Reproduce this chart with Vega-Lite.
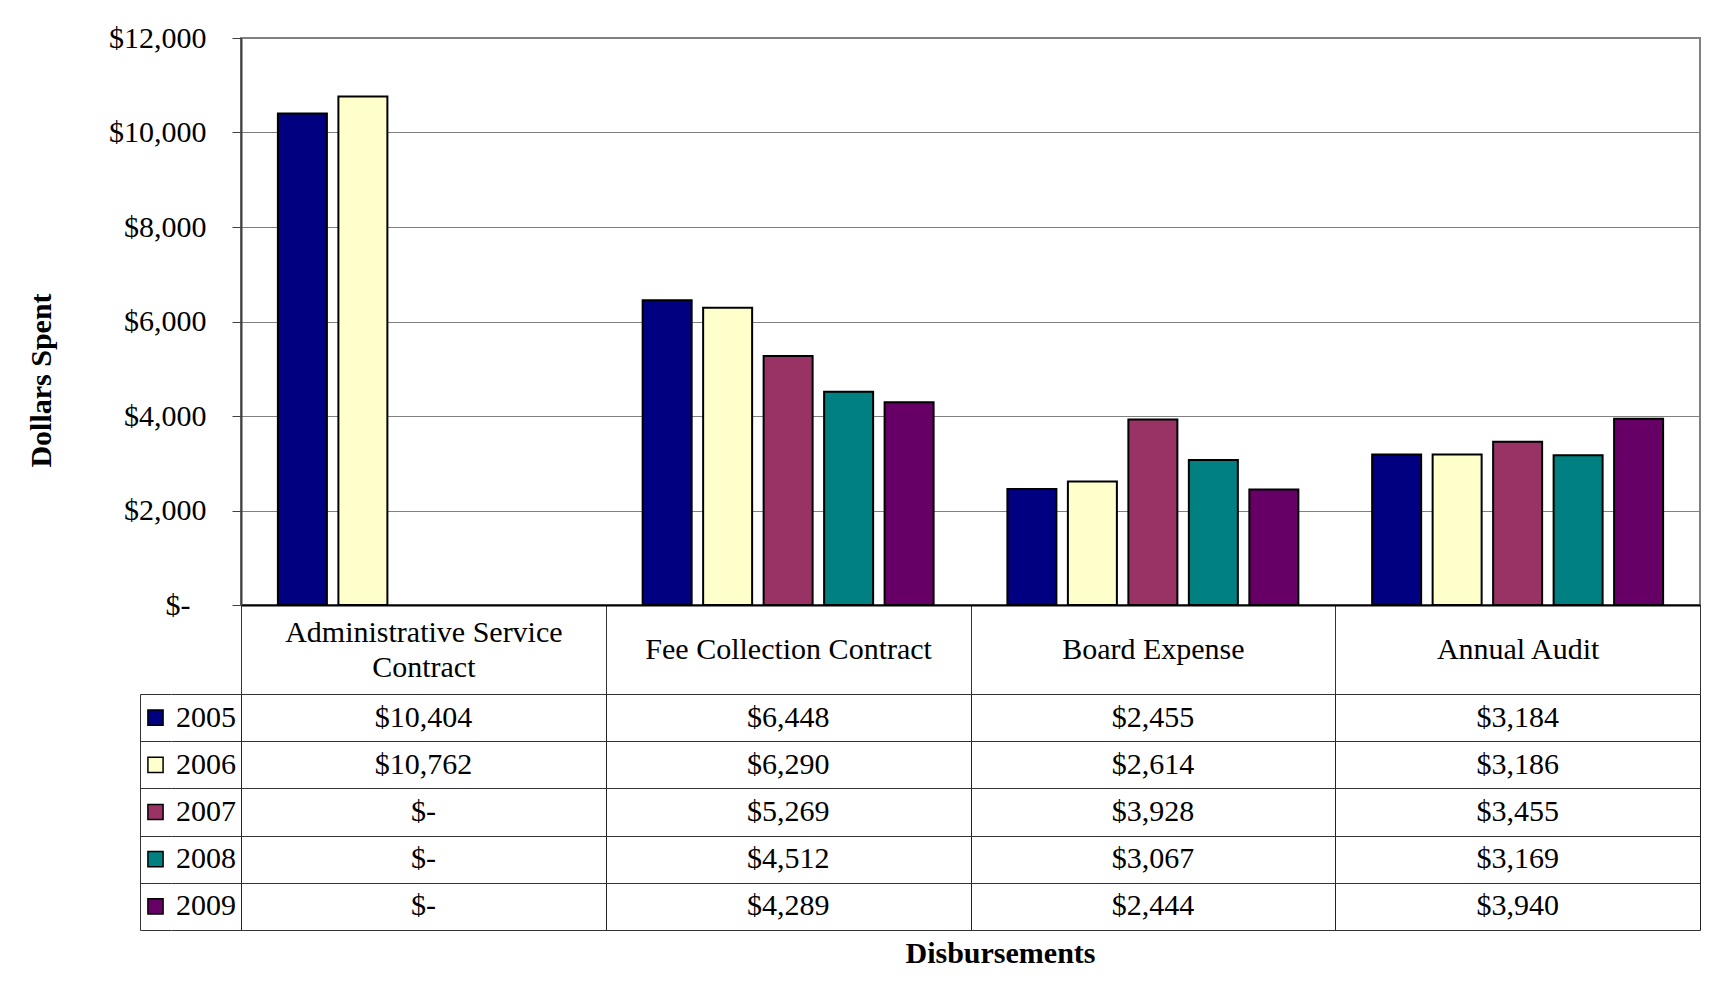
{
  "$schema": "https://vega.github.io/schema/vega-lite/v6.json",
  "padding": {"left": 25, "top": 22, "right": 5, "bottom": 5},
  "config": {
    "font": "Liberation Serif",
    "view": {"stroke": null},
    "axis": {"labelFont": "Liberation Serif", "titleFont": "Liberation Serif", "labelColor": "black", "titleColor": "black"}
  },
  "datasets": {
    "cells": [
      {"category": "Administrative Service Contract", "year": "2005", "value": 10404},
      {"category": "Administrative Service Contract", "year": "2006", "value": 10762},
      {"category": "Administrative Service Contract", "year": "2007", "value": 0},
      {"category": "Administrative Service Contract", "year": "2008", "value": 0},
      {"category": "Administrative Service Contract", "year": "2009", "value": 0},
      {"category": "Fee Collection Contract", "year": "2005", "value": 6448},
      {"category": "Fee Collection Contract", "year": "2006", "value": 6290},
      {"category": "Fee Collection Contract", "year": "2007", "value": 5269},
      {"category": "Fee Collection Contract", "year": "2008", "value": 4512},
      {"category": "Fee Collection Contract", "year": "2009", "value": 4289},
      {"category": "Board Expense", "year": "2005", "value": 2455},
      {"category": "Board Expense", "year": "2006", "value": 2614},
      {"category": "Board Expense", "year": "2007", "value": 3928},
      {"category": "Board Expense", "year": "2008", "value": 3067},
      {"category": "Board Expense", "year": "2009", "value": 2444},
      {"category": "Annual Audit", "year": "2005", "value": 3184},
      {"category": "Annual Audit", "year": "2006", "value": 3186},
      {"category": "Annual Audit", "year": "2007", "value": 3455},
      {"category": "Annual Audit", "year": "2008", "value": 3169},
      {"category": "Annual Audit", "year": "2009", "value": 3940}
    ],
    "years": [
      {"year": "2005"}, {"year": "2006"}, {"year": "2007"}, {"year": "2008"}, {"year": "2009"}
    ],
    "blank": [{"t": ""}]
  },
  "columns": 3,
  "spacing": {"row": 89, "column": 0},
  "bounds": "flush",
  "concat": [
    {
      "width": 31, "height": 567,
      "data": {"name": "blank"},
      "mark": "text",
      "encoding": {"text": {"field": "t"}}
    },
    {
      "width": 70, "height": 567,
      "data": {"name": "blank"},
      "mark": "text",
      "encoding": {"text": {"field": "t"}}
    },
    {
      "width": 1459, "height": 567,
      "view": {"stroke": "#808080", "strokeWidth": 2},
      "data": {"name": "cells"},
      "transform": [{"filter": "datum.value > 0"}],
      "mark": {"type": "bar", "stroke": "black", "strokeWidth": 2},
      "encoding": {
        "x": {
          "field": "category", "type": "nominal",
          "sort": ["Administrative Service Contract", "Fee Collection Contract", "Board Expense", "Annual Audit"],
          "scale": {"domain": ["Administrative Service Contract", "Fee Collection Contract", "Board Expense", "Annual Audit"], "paddingInner": 0, "paddingOuter": 0},
          "axis": {
            "title": null, "orient": "bottom",
            "domain": true, "domainColor": "black", "domainWidth": 2,
            "ticks": true, "tickBand": "extent", "tickSize": 89, "tickColor": "#333", "tickWidth": 1,
            "grid": false,
            "labelAngle": 0, "labelBaseline": "middle",
            "labelPadding": {"condition": {"test": "datum.value == 'Administrative Service Contract'", "value": -62}, "value": -44.5},
            "labelFontSize": 30, "labelLineHeight": 35, "labelLimit": 0,
            "labelExpr": "datum.value == 'Administrative Service Contract' ? ['Administrative Service', 'Contract'] : datum.value"
          }
        },
        "xOffset": {
          "field": "year", "type": "nominal",
          "scale": {"domain": ["2005", "2006", "2007", "2008", "2009"], "paddingInner": 0.19, "paddingOuter": 0.61}
        },
        "y": {
          "field": "value", "type": "quantitative",
          "scale": {"domain": [0, 12000], "nice": false},
          "axis": {
            "values": [0, 2000, 4000, 6000, 8000, 10000, 12000],
            "title": "Dollars Spent", "titleFontSize": 30, "titleFontWeight": "bold",
            "titlePadding": 52, "titleY": 342,
            "labelExpr": "datum.value == 0 ? '$-' : '$' + format(datum.value, ',')",
            "labelFontSize": 30,
            "labelPadding": {"condition": {"test": "datum.value == 0", "value": 42}, "value": 26},
            "tickSize": 9, "tickColor": "#404040",
            "domainColor": "#404040", "domainWidth": 2,
            "grid": true, "gridColor": "#808080", "gridWidth": 1
          }
        },
        "color": {
          "field": "year", "type": "nominal",
          "scale": {"domain": ["2005", "2006", "2007", "2008", "2009"], "range": ["#000080", "#FFFFCC", "#993366", "#008080", "#660066"]},
          "legend": null
        }
      }
    },
    {
      "width": 31, "height": 236,
      "data": {"name": "years"},
      "mark": {"type": "square", "filled": true, "size": 230, "stroke": "black", "strokeWidth": 1.5, "opacity": 1},
      "encoding": {
        "y": {
          "field": "year", "type": "nominal", "sort": ["2005", "2006", "2007", "2008", "2009"],
          "scale": {"paddingInner": 0, "paddingOuter": 0},
          "axis": {"title": null, "labels": false, "ticks": false, "domain": true, "domainColor": "#333", "domainWidth": 1, "grid": true, "tickBand": "extent", "gridColor": "#333", "gridWidth": 1}
        },
        "color": {
          "field": "year", "type": "nominal",
          "scale": {"domain": ["2005", "2006", "2007", "2008", "2009"], "range": ["#000080", "#FFFFCC", "#993366", "#008080", "#660066"]},
          "legend": null
        }
      }
    },
    {
      "width": 70, "height": 236,
      "data": {"name": "years"},
      "mark": {"type": "text", "fontSize": 30, "color": "black"},
      "encoding": {
        "y": {
          "field": "year", "type": "nominal", "sort": ["2005", "2006", "2007", "2008", "2009"],
          "scale": {"paddingInner": 0, "paddingOuter": 0},
          "axis": {"title": null, "labels": false, "ticks": false, "domain": false, "grid": true, "tickBand": "extent", "gridColor": "#333", "gridWidth": 1}
        },
        "text": {"field": "year"}
      }
    },
    {
      "width": 1459, "height": 236,
      "data": {"name": "cells"},
      "mark": {"type": "text", "fontSize": 30, "color": "black"},
      "encoding": {
        "x": {
          "field": "category", "type": "nominal",
          "sort": ["Administrative Service Contract", "Fee Collection Contract", "Board Expense", "Annual Audit"],
          "scale": {"paddingInner": 0, "paddingOuter": 0},
          "axis": {
            "title": "Disbursements", "orient": "bottom",
            "labels": false, "ticks": false, "domain": false,
            "grid": true, "tickBand": "extent", "gridColor": "#222", "gridWidth": 1,
            "titleFontSize": 30, "titleFontWeight": "bold", "titlePadding": 8, "titleX": 759
          }
        },
        "y": {
          "field": "year", "type": "nominal", "sort": ["2005", "2006", "2007", "2008", "2009"],
          "scale": {"paddingInner": 0, "paddingOuter": 0},
          "axis": {"title": null, "labels": false, "ticks": false, "domain": false, "grid": true, "tickBand": "extent", "gridColor": "#333", "gridWidth": 1}
        },
        "text": {
          "condition": {"test": "datum.value == 0", "value": "$-"},
          "field": "value", "type": "quantitative", "format": "$,"
        }
      }
    }
  ]
}
